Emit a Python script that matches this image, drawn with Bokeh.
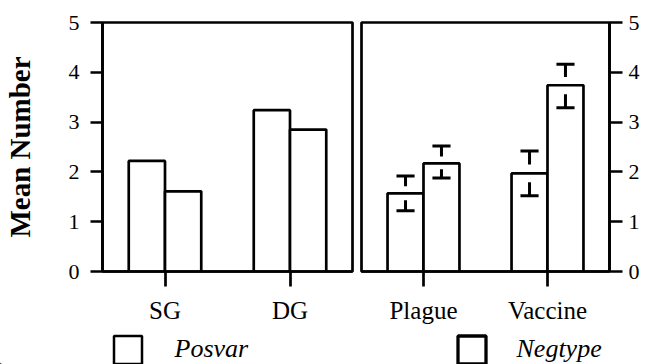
from bokeh.plotting import figure
from bokeh.models import FactorRange, FixedTicker, Legend, LegendItem, Range1d, ColumnDataSource
from bokeh.transform import dodge
from bokeh.layouts import column, row
from bokeh.embed import file_html
from bokeh.resources import INLINE

# ---- data ----
cats_left = ["SG", "DG"]
posvar_left = [2.22, 3.24]
negtype_left = [1.61, 2.85]

cats_right = ["Plague", "Vaccine"]
posvar_right = [1.57, 1.97]
negtype_right = [2.17, 3.74]
posvar_right_lo = [1.22, 1.52]
posvar_right_hi = [1.92, 2.42]
negtype_right_lo = [1.88, 3.29]
negtype_right_hi = [2.52, 4.16]

y_ticks = [0, 1, 2, 3, 4, 5]
series_labels = ["Posvar", "Negtype"]

FONT = "Liberation Serif"
LW = 2.7
BAR_W = 0.29
HALF = BAR_W / 2
CAP = 0.073
STEM = 0.6


def base_fig(cats, width, mbl, mbr, yloc):
    p = figure(x_range=FactorRange(*cats), y_range=Range1d(0, 5),
               width=width, height=330, output_backend="svg",
               toolbar_location=None, y_axis_location=yloc,
               min_border_left=mbl, min_border_right=mbr,
               min_border_top=22, min_border_bottom=59)
    p.grid.visible = False
    p.outline_line_color = "black"
    p.outline_line_width = LW
    p.background_fill_color = "white"
    p.border_fill_color = "white"
    p.x_range.range_padding = 0
    p.axis.axis_line_width = LW
    p.axis.major_tick_line_width = LW
    p.axis.major_tick_in = 0
    p.axis.minor_tick_line_color = None
    p.axis.major_label_text_font = FONT
    p.axis.major_label_text_color = "black"
    p.axis.axis_label_text_color = "black"
    p.xaxis.major_tick_out = 15
    p.xaxis.major_label_text_font_size = "25px"
    p.xaxis.major_label_standoff = 10
    p.yaxis.ticker = FixedTicker(ticks=y_ticks)
    p.yaxis.major_label_text_font_size = "22px"
    return p


# ---- left panel ----
p1 = base_fig(cats_left, 356, 102, 4, "left")
p1.yaxis.major_tick_out = 12
p1.yaxis.major_label_standoff = 11
p1.yaxis.axis_label = "Mean Number"
p1.yaxis.axis_label_text_font = FONT
p1.yaxis.axis_label_text_font_style = "bold"
p1.yaxis.axis_label_text_font_size = "29px"
p1.yaxis.axis_label_standoff = 30

src1 = ColumnDataSource(dict(cat=cats_left, pos=posvar_left, neg=negtype_left))
p1.vbar(x=dodge("cat", -HALF, range=p1.x_range), top="pos", width=BAR_W, source=src1,
        fill_color="white", line_color="black", line_width=LW)
p1.vbar(x=dodge("cat", HALF, range=p1.x_range), top="neg", width=BAR_W, source=src1,
        fill_color="white", line_color="black", line_width=LW)

# ---- right panel ----
p2 = base_fig(cats_right, 294, 5, 41, "right")
p2.yaxis.major_tick_out = 13
p2.yaxis.major_label_standoff = 6

def stems(mean, lo, hi):
    hi_end = [h - STEM * (h - m) for m, h in zip(mean, hi)]
    lo_end = [l + STEM * (m - l) for m, l in zip(mean, lo)]
    return hi_end, lo_end

ph_end, pl_end = stems(posvar_right, posvar_right_lo, posvar_right_hi)
nh_end, nl_end = stems(negtype_right, negtype_right_lo, negtype_right_hi)

src2 = ColumnDataSource(dict(cat=cats_right, pos=posvar_right, neg=negtype_right,
                             pos_lo=posvar_right_lo, pos_hi=posvar_right_hi,
                             neg_lo=negtype_right_lo, neg_hi=negtype_right_hi,
                             ph_end=ph_end, pl_end=pl_end, nh_end=nh_end, nl_end=nl_end))
p2.vbar(x=dodge("cat", -HALF, range=p2.x_range), top="pos", width=BAR_W, source=src2,
        fill_color="white", line_color="black", line_width=LW)
p2.vbar(x=dodge("cat", HALF, range=p2.x_range), top="neg", width=BAR_W, source=src2,
        fill_color="white", line_color="black", line_width=LW)

for off, lo, hi, he, le in ((-HALF, "pos_lo", "pos_hi", "ph_end", "pl_end"),
                            (HALF, "neg_lo", "neg_hi", "nh_end", "nl_end")):
    xc = dodge("cat", off, range=p2.x_range)
    xl = dodge("cat", off - CAP, range=p2.x_range)
    xr = dodge("cat", off + CAP, range=p2.x_range)
    for cap_y, end_y in ((hi, he), (lo, le)):
        p2.segment(x0=xl, x1=xr, y0=cap_y, y1=cap_y, source=src2,
                   line_color="black", line_width=3)
        p2.segment(x0=xc, x1=xc, y0=cap_y, y1=end_y, source=src2,
                   line_color="black", line_width=3)

# ---- legend strip ----
pl = figure(width=650, height=34, output_backend="svg", toolbar_location=None,
            x_range=Range1d(0, 1), y_range=Range1d(0, 1),
            x_axis_location=None, y_axis_location=None,
            min_border=0)
pl.grid.visible = False
pl.outline_line_color = None
offscreen = ColumnDataSource(dict(x=[-10], top=[-10]))
r_pos = pl.vbar(x="x", top="top", width=0.1, source=offscreen,
                fill_color="white", line_color="black", line_width=2.5)
r_neg = pl.vbar(x="x", top="top", width=0.1, source=offscreen,
                fill_color="white", line_color="black", line_width=3.3)

for lab, rend, xloc, stand in ((series_labels[0], r_pos, 109.5, 30),
                               (series_labels[1], r_neg, 453.5, 28)):
    lg = Legend(items=[LegendItem(label=lab, renderers=[rend])],
                location=(xloc, -2.5), padding=0, margin=0, spacing=0,
                glyph_width=35, glyph_height=35, label_standoff=stand,
                label_text_font=FONT, label_text_font_style="italic",
                label_text_font_size="26px", label_height=35,
                label_text_color="black",
                border_line_color=None, background_fill_alpha=0)
    pl.add_layout(lg, "center")

layout = column(row(p1, p2), pl)
open("out.html", "w").write(file_html(layout, INLINE))
